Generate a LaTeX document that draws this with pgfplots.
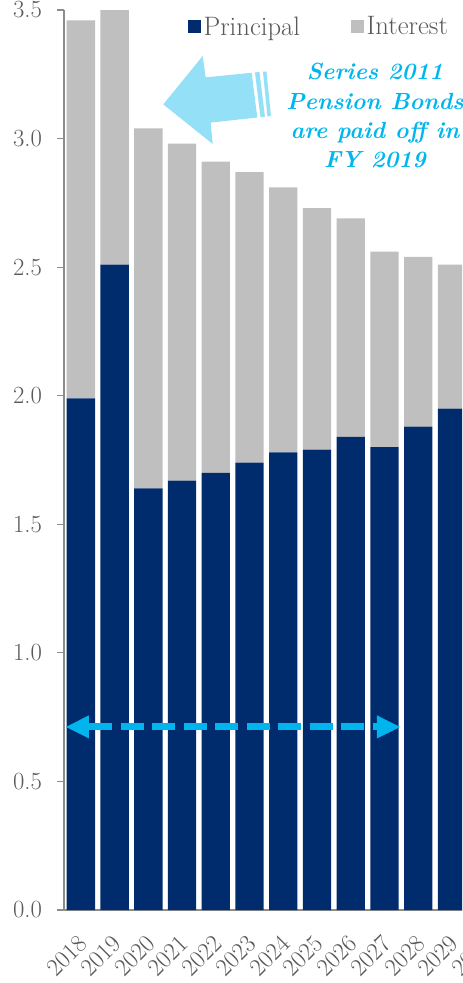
\documentclass[border=0pt]{standalone}
\usepackage{fontspec}
\usepackage{pgfplots}
\usepackage{pgfplotstable}
\pgfplotsset{compat=1.18}

\definecolor{navy}{HTML}{002C6E}
\definecolor{intgray}{HTML}{BFBFBF}
\definecolor{txtgray}{HTML}{595959}
\definecolor{axgray}{HTML}{8C8C8C}
\definecolor{arrowblue}{HTML}{93E0F7}
\definecolor{cyantext}{HTML}{00B6EC}
\definecolor{dashblue}{HTML}{00B5EE}

\pgfplotsset{
  sq legend/.style={legend image code/.code={\fill[##1] (0pt,-5pt) rectangle (10pt,5pt);}},
  frame/.style={at={(0pt,0pt)}, anchor=south west, scale only axis,
    width=328.9pt, height=675pt, xmin=-0.5, xmax=12.5, ymin=0, ymax=3.5},
}

% debt service, $ billions
\pgfplotstableread{
year principal interest
0  1.99 1.47
1  2.51 0.99
2  1.64 1.40
3  1.67 1.31
4  1.70 1.21
5  1.74 1.13
6  1.78 1.03
7  1.79 0.94
8  1.84 0.85
9  1.80 0.76
10 1.88 0.66
11 1.95 0.56
}\debt

\begin{document}
\begin{tikzpicture}
\useasboundingbox (-48pt,-54.75pt) rectangle (298.5pt,682.5pt);
\clip (-48pt,-54.75pt) rectangle (298.5pt,682.5pt);
\begin{axis}[
    frame,
    ybar stacked, bar width=0.84,
    axis x line*=bottom, axis y line*=left,
    axis line style={axgray, line width=0.9pt},
    xtick={0,...,12},
    xticklabels={2018,2019,2020,2021,2022,2023,2024,2025,2026,2027,2028,2029,2030},
    x tick style={draw=none},
    ytick={0,0.5,...,3.5},
    y tick style={axgray, line width=0.9pt},
    tick align=outside, major tick length=5pt,
    /pgf/number format/assume math mode=true,
    tick label style={font=\fontsize{18.5}{18.5}\selectfont, text=txtgray},
    yticklabel style={xshift=-8pt, /pgf/number format/fixed,
        /pgf/number format/fixed zerofill, /pgf/number format/precision=1},
    xticklabel style={xshift=-2.75pt, yshift=-8pt, rotate=45, anchor=north east},
    legend style={at={(0.272,0.999)}, anchor=north west, draw=none, fill=none,
        legend columns=2, font=\fontsize{20}{20}\selectfont, text=txtgray,
        /tikz/every even column/.append style={column sep=36pt}},
]
\addplot[fill=navy, draw=none, sq legend] table[x=year, y=principal] {\debt};
\addplot[fill=intgray, draw=none, sq legend] table[x=year, y=interest] {\debt};
\legend{Principal, Interest}
\end{axis}

% annotations on top, same frame
\begin{axis}[frame, hide axis, clip=false]
% big arrow
\fill[arrowblue] (axis cs:2.443,3.133) -- (axis cs:3.611,3.321) -- (axis cs:3.700,3.238)
    -- (axis cs:5.063,3.256) -- (axis cs:5.229,3.082) -- (axis cs:3.848,3.062)
    -- (axis cs:3.907,2.979) -- cycle;
\fill[arrowblue] (axis cs:5.161,3.257) -- (axis cs:5.294,3.259) -- (axis cs:5.457,3.085) -- (axis cs:5.324,3.083) -- cycle;
\fill[arrowblue] (axis cs:5.398,3.260) -- (axis cs:5.502,3.261) -- (axis cs:5.635,3.088) -- (axis cs:5.531,3.086) -- cycle;

\node[align=center, text=cyantext, font=\fontsize{17.5}{22}\selectfont\bfseries\itshape]
    at (axis cs:8.72,3.088) {Series 2011\\Pension Bonds\\are paid off in\\FY 2019};

% dashed double arrow
\draw[dashblue, line width=5.25pt, dash pattern=on 17.25pt off 6.4pt]
    (axis cs:0.241,0.712) -- (axis cs:8.777,0.712);
\fill[dashblue] (axis cs:-0.44,0.712) -- (axis cs:0.241,0.757) -- (axis cs:0.241,0.667) -- cycle;
\fill[dashblue] (axis cs:9.459,0.712) -- (axis cs:8.777,0.757) -- (axis cs:8.777,0.667) -- cycle;
\end{axis}
\end{tikzpicture}
\end{document}
